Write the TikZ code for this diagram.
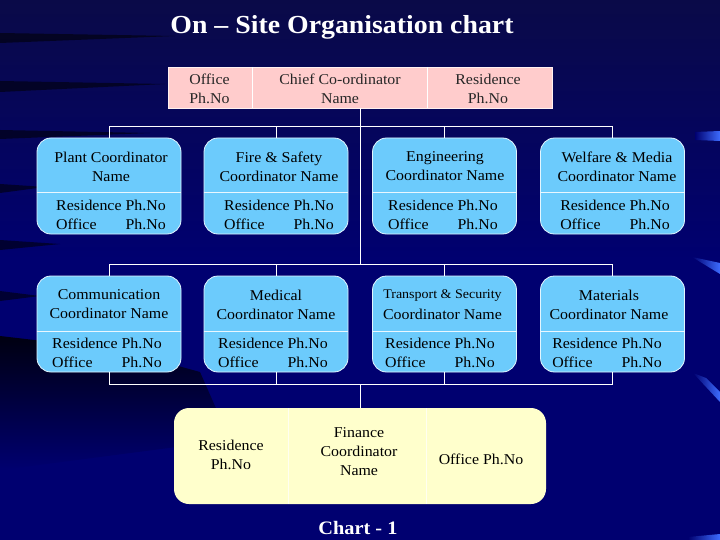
\documentclass[tikz,border=0pt]{standalone}
\usepackage{fontspec}
\setmainfont{Liberation Serif}
\newfontfamily\boxfont[FakeStretch=1.06]{Liberation Serif}
\newfontfamily\titlefont[FakeStretch=1.07]{Liberation Serif}
\definecolor{bgtop}{HTML}{0A0A48}
\definecolor{bgmain}{HTML}{000070}
\definecolor{skyb}{HTML}{6CCBFC}
\definecolor{pinkb}{HTML}{FFCCCC}
\definecolor{yellowb}{HTML}{FFFFCC}
\definecolor{barblue}{HTML}{3D6CFF}
\begin{document}
\begin{tikzpicture}[x=1pt,y=-1pt,
  conn/.style={draw=white, line width=0.9pt},
  bluebox/.style={draw=white!80!skyb, line width=0.8pt, fill=skyb, rounded corners=14pt,
    minimum width=144pt, minimum height=96pt, inner sep=0pt},
  divl/.style={draw=white!85!skyb, line width=0.8pt},
  txt/.style={font=\boxfont\fontsize{15}{19}\selectfont, text=black, align=center, inner sep=0pt},
  stxt/.style={font=\boxfont\fontsize{13.2}{19}\selectfont, text=black, align=center, inner sep=0pt},
  streak/.style={fill=black, opacity=0.55},
  bar/.style={left color=bgmain, right color=barblue},
]
\useasboundingbox (0,0) rectangle (720,540);
% background
\fill[bgmain] (0,0) rectangle (720,540);
\shade[top color=bgtop, bottom color=bgmain] (0,0) rectangle (720,260);
\shade[top color=black!85!bgmain, bottom color=bgmain] (0,336) -- (120,350) -- (200,372) -- (230,440) -- (0,470) -- cycle;
\fill[streak] (0,33) -- (175,36) -- (0,43) -- cycle;
\fill[streak] (0,81) -- (165,84) -- (0,92) -- cycle;
\fill[streak] (0,130) -- (150,133) -- (0,139) -- cycle;
\fill[streak] (0,184) -- (45,187) -- (0,193) -- cycle;
\fill[streak] (0,240) -- (60,244) -- (0,250) -- cycle;
\fill[streak] (0,291) -- (40,296) -- (0,301) -- cycle;
\shade[bar] (695,132) -- (720,131) -- (720,141) -- (695,140) -- cycle;
\shade[bar] (692,257) -- (720,263) -- (720,274) -- cycle;
\shade[bar] (693,373) -- (706,378) -- (720,392) -- (720,402) -- cycle;
\shade[bar] (688,537) -- (720,534) -- (720,540) -- (688,540) -- cycle;

% title
\node[font=\titlefont\bfseries\fontsize{26}{30}\selectfont, text=white, inner sep=0pt] (title) at (342,27.5) {On – Site Organisation chart};

% chief box
\node[draw=white!70!pinkb, line width=0.8pt, fill=pinkb, minimum width=384pt, minimum height=41pt, inner sep=0pt] (chief) at (360,87.5) {};
\draw[draw=white, line width=0.8pt] (252,67) -- (252,108);
\draw[draw=white, line width=0.8pt] (427,67) -- (427,108);
\node[txt, text=black!85] (c1) at (209.5,88.5) {Office\\Ph.No};
\node[txt, text=black!85] (c2) at (340,88.5) {Chief Co-ordinator\\Name};
\node[txt, text=black!85] (c3) at (488,88.5) {Residence\\Ph.No};

% row 1
\node[bluebox] (p1) at (109,186) {};
\node[bluebox] (p2) at (276,186) {};
\node[bluebox] (p3) at (444.5,186) {};
\node[bluebox] (p4) at (612.5,186) {};
% row 2
\node[bluebox] (r1) at (109,324) {};
\node[bluebox] (r2) at (276,324) {};
\node[bluebox] (r3) at (444.5,324) {};
\node[bluebox] (r4) at (612.5,324) {};
\foreach \b in {p1,p2,p3,p4} {\draw[divl] (\b.west |- 0,192) -- (\b.east |- 0,192);}
\foreach \b in {r1,r2,r3,r4} {\draw[divl] (\b.west |- 0,331) -- (\b.east |- 0,331);}

\newcommand{\phno}{\begin{tabular}{@{}l@{\ }r@{}}Residence & Ph.No\\ Office & Ph.No\end{tabular}}
\node[txt] (p1t) at (111,166.5) {Plant Coordinator\\Name};
\node[txt] (p2t) at (279,166.5) {Fire \& Safety\\Coordinator Name};
\node[txt] (p3t) at (445,166.5) {Engineering\\Coordinator Name};
\node[txt] (p4t) at (617,166.5) {Welfare \& Media\\Coordinator Name};
\foreach \b/\x in {p1b/111,p2b/279,p3b/443,p4b/615} {\node[txt] (\b) at (\x,216) {\phno};}
\node[txt] (r1t) at (109,304.5) {Communication\\Coordinator Name};
\node[txt] (r2t) at (276,304.5) {Medical\\Coordinator Name};
\node[stxt] (r3ta) at (442.5,296) {Transport \& Security};
\node[txt] (r3tb) at (442.5,314.5) {Coordinator Name};
\node[txt] (r4t) at (609,304.5) {Materials\\Coordinator Name};
\foreach \b/\x in {r1b/107,r2b/273,r3b/440,r4b/607} {\node[txt] (\b) at (\x,354) {\phno};}

% finance box
\node[fill=yellowb, rounded corners=15pt, minimum width=372pt, minimum height=96pt, inner sep=0pt] (fin) at (360,456) {};
\draw[white!70!yellowb, line width=0.6pt] (288,408) -- (288,504);
\draw[white!70!yellowb, line width=0.6pt] (426,408) -- (426,504);
\node[txt] (f1) at (231,454.5) {Residence\\Ph.No};
\node[txt] (f2) at (359,452) {Finance\\Coordinator\\Name};
\node[txt] (f3) at (481,459) {Office Ph.No};

% connectors
\coordinate (j1) at (360,126);
\coordinate (j2) at (360,264);
\coordinate (j3) at (360,384);
\draw[conn] (chief.south) -- (j2);
\draw[conn] (p1.north) -- (p1.north |- j1) -- (p4.north |- j1) -- (p4.north);
\draw[conn] (p2.north) -- (p2.north |- j1);
\draw[conn] (p3.north) -- (p3.north |- j1);
\draw[conn] (r1.north) -- (r1.north |- j2) -- (r4.north |- j2) -- (r4.north);
\draw[conn] (r2.north) -- (r2.north |- j2);
\draw[conn] (r3.north) -- (r3.north |- j2);
\draw[conn] (r1.south) -- (r1.south |- j3) -- (r4.south |- j3) -- (r4.south);
\draw[conn] (r2.south) -- (r2.south |- j3);
\draw[conn] (r3.south) -- (r3.south |- j3);
\draw[conn] (j3) -- (fin.north);

% footer
\node[font=\titlefont\bfseries\fontsize{19}{22}\selectfont, text=white, inner sep=0pt] (chart) at (358,528) {Chart - 1};
\end{tikzpicture}
\end{document}
